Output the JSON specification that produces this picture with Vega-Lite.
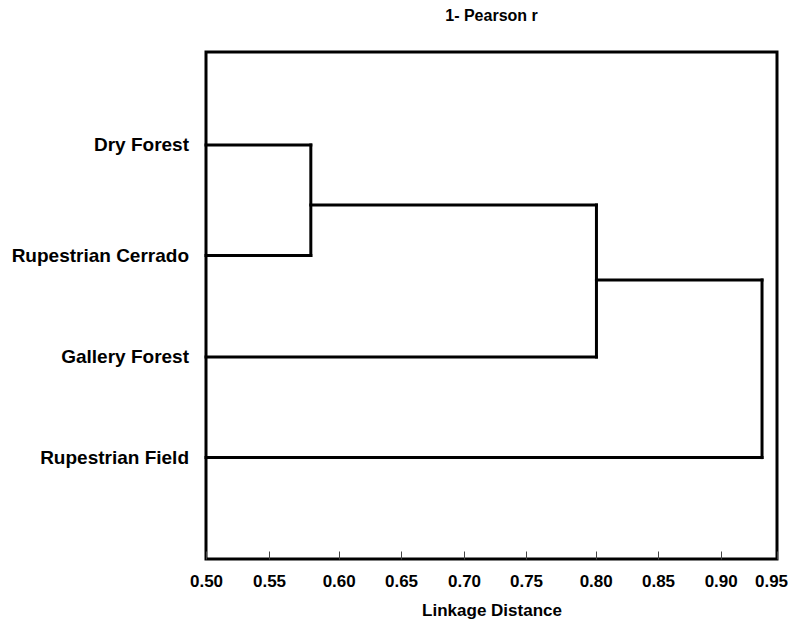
{
  "$schema": "https://vega.github.io/schema/vega-lite/v6.json",
  "width": 571,
  "height": 507,
  "autosize": "none",
  "padding": {"left": 206, "top": 52, "right": 11, "bottom": 68},
  "background": "white",
  "config": {
    "view": {"stroke": "black", "strokeWidth": 3},
    "font": "Liberation Sans"
  },
  "title": {
    "text": "1- Pearson r",
    "fontSize": 16,
    "fontWeight": "bold",
    "font": "Liberation Sans",
    "color": "black",
    "anchor": "middle",
    "offset": 28
  },
  "data": {
    "values": [
      {"kind": "leaf", "label": "Dry Forest", "x": 0.5, "x2": 0.58, "y": 0.917, "y2": 0.917},
      {"kind": "leaf", "label": "Rupestrian Cerrado", "x": 0.5, "x2": 0.58, "y": 2.007, "y2": 2.007},
      {"kind": "link", "label": "", "x": 0.58, "x2": 0.58, "y": 0.917, "y2": 2.007},
      {"kind": "link", "label": "", "x": 0.58, "x2": 0.8006, "y": 1.509, "y2": 1.509},
      {"kind": "leaf", "label": "Gallery Forest", "x": 0.5, "x2": 0.8006, "y": 3.008, "y2": 3.008},
      {"kind": "link", "label": "", "x": 0.8006, "x2": 0.8006, "y": 1.509, "y2": 3.008},
      {"kind": "link", "label": "", "x": 0.8006, "x2": 0.9367, "y": 2.249, "y2": 2.249},
      {"kind": "leaf", "label": "Rupestrian Field", "x": 0.5, "x2": 0.9367, "y": 4.0, "y2": 4.0},
      {"kind": "link", "label": "", "x": 0.9367, "x2": 0.9367, "y": 2.249, "y2": 4.0}
    ]
  },
  "encoding": {
    "x": {
      "field": "x",
      "type": "quantitative",
      "scale": {
        "domain": [0.5, 0.55, 0.6, 0.65, 0.7, 0.75, 0.8, 0.85, 0.9, 0.95],
        "range": [0, 63, 132.7, 195, 258, 320, 389.7, 452, 514.7, 571]
      },
      "axis": {
        "title": "Linkage Distance",
        "values": [0.5, 0.55, 0.6, 0.65, 0.7, 0.75, 0.8, 0.85, 0.9, 0.95],
        "format": ".2f",
        "domain": false,
        "grid": false,
        "ticks": true,
        "tickSize": -8,
        "tickColor": "#444",
        "tickWidth": 1,
        "labelPadding": 22,
        "labelFont": "Liberation Sans",
        "labelFontSize": 17,
        "labelFontWeight": "bold",
        "labelColor": "black",
        "labelFlush": false,
        "labelOverlap": false,
        "labelOffset": {"condition": {"test": "datum.value >= 0.95", "value": -6}, "value": 0},
        "titleFont": "Liberation Sans",
        "titleFontSize": 17,
        "titleFontWeight": "bold",
        "titleColor": "black",
        "titlePadding": 13
      }
    },
    "y": {
      "field": "y",
      "type": "quantitative",
      "scale": {"domain": [0, 5], "reverse": true},
      "axis": null
    }
  },
  "layer": [
    {
      "mark": {"type": "rule", "strokeWidth": 3, "color": "black", "strokeCap": "square"},
      "encoding": {
        "x2": {"field": "x2"},
        "y2": {"field": "y2"}
      }
    },
    {
      "transform": [{"filter": "datum.kind == 'leaf'"}],
      "mark": {
        "type": "text",
        "align": "right",
        "baseline": "middle",
        "dx": -17,
        "fontSize": 19,
        "fontWeight": "bold",
        "font": "Liberation Sans",
        "color": "black"
      },
      "encoding": {
        "text": {"field": "label"}
      }
    }
  ]
}
